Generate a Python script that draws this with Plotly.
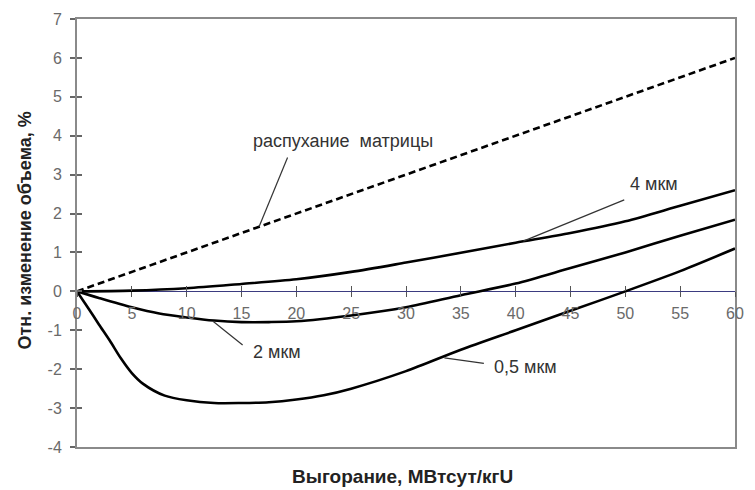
import plotly.graph_objects as go

# ---- data ----
x_swell = [0, 60]
y_swell = [0, 6]

x_4um = [0, 5, 10, 15, 20, 25, 30, 35, 40, 45, 50, 55, 60]
y_4um = [0, 0.02, 0.08, 0.19, 0.31, 0.5, 0.74, 0.99, 1.25, 1.5, 1.8, 2.2, 2.6]

x_2um = [0, 2, 5, 7.5, 10, 12.5, 15, 17.5, 20, 25, 30, 35, 40, 45, 50, 55, 60]
y_2um = [0, -0.17, -0.41, -0.57, -0.67, -0.75, -0.79, -0.79, -0.77, -0.62, -0.41, -0.1, 0.2, 0.6, 1.0, 1.43, 1.84]

x_05um = [0, 1, 2, 3, 4, 5, 6, 8, 10, 12.5, 15, 17.5, 20, 22.5, 25, 30, 35, 40, 45, 50, 55, 60]
y_05um = [0, -0.42, -0.85, -1.27, -1.72, -2.1, -2.37, -2.68, -2.8, -2.87, -2.87, -2.85, -2.78, -2.67, -2.5, -2.05, -1.5, -1.0, -0.5, 0, 0.52, 1.1]

x_ticks = list(range(0, 61, 5))
y_ticks = list(range(-4, 8, 1))
y_ticktext = [str(v) for v in y_ticks]   # plain hyphen minus as in the original

# labels: (text, text_x, text_y, leader tail x, y, leader head x, y)
labels = [
    ("распухание  матрицы", 24.3, 3.87, 19.2, 3.44, 16.6, 1.66),
    ("4 мкм", 52.6, 2.77, 49.9, 2.35, 40.7, 1.29),
    ("2 мкм", 18.2, -1.56, 15.1, -1.38, 12.4, -0.77),
    ("0,5 мкм", 40.9, -1.95, 37.1, -1.85, 33.5, -1.71),
]

FONT = "Liberation Sans, Arial, sans-serif"

fig = go.Figure()
fig.add_trace(go.Scatter(x=x_swell, y=y_swell, mode="lines",
                         line=dict(color="black", width=2.6, dash="7px,4px")))
for xs, ys in [(x_4um, y_4um), (x_2um, y_2um), (x_05um, y_05um)]:
    fig.add_trace(go.Scatter(x=xs, y=ys, mode="lines",
                             line=dict(color="black", width=2.6, shape="spline", smoothing=0.8)))

# invisible helper traces so the overlay tick axes are drawn
fig.add_trace(go.Scatter(x=[0, 60], y=[-4, 7], xaxis="x2", yaxis="y2", mode="markers",
                         marker=dict(opacity=0), hoverinfo="skip"))
fig.add_trace(go.Scatter(x=[0, 60], y=[-4, 7], xaxis="x3", yaxis="y", mode="markers",
                         marker=dict(opacity=0), hoverinfo="skip"))

for text, tx, ty, ax_, ay_, hx, hy in labels:
    fig.add_shape(type="line", x0=ax_, y0=ay_, x1=hx, y1=hy, xref="x", yref="y",
                  line=dict(color="#333333", width=1.2))
    fig.add_annotation(x=tx, y=ty, xref="x", yref="y", text=text, showarrow=False,
                       xanchor="center", yanchor="middle",
                       font=dict(family=FONT, size=18, color="#333333"))

# axis titles
fig.add_annotation(x=-0.0795, y=0.505, xref="paper", yref="paper",
                   xanchor="center", yanchor="middle",
                   text="Отн. изменение объема, %", textangle=-90, showarrow=False,
                   font=dict(family=FONT, size=18, color="#222222", weight="bold"))
fig.add_annotation(x=0.495, y=-0.07, xref="paper", yref="paper",
                   xanchor="center", yanchor="middle",
                   text="Выгорание, МВтсут/кгU", showarrow=False,
                   font=dict(family=FONT, size=19, color="#222222", weight="bold"))

GRAY = "#8a8a8a"
fig.update_layout(
    width=755, height=490,
    margin=dict(l=77, r=11, t=18, b=43),
    paper_bgcolor="white", plot_bgcolor="white",
    showlegend=False,
    xaxis=dict(range=[0, 60], showline=True, mirror=True, linecolor=GRAY, linewidth=2,
               showgrid=False, zeroline=False, showticklabels=False, ticks=""),
    yaxis=dict(range=[-4, 7], showline=True, mirror=True, linecolor=GRAY, linewidth=2,
               showgrid=False, zeroline=True, zerolinecolor="#3b3b80", zerolinewidth=1,
               tickvals=y_ticks, ticktext=y_ticktext, ticks="outside", ticklen=5,
               tickcolor="#666666", tickwidth=1.5, ticklabelstandoff=5,
               tickfont=dict(family=FONT, size=16, color="#6a6a6a")),
    yaxis2=dict(range=[-4, 7], overlaying="y", side="left", anchor="x", showline=False,
                showgrid=False, zeroline=False, tickvals=y_ticks, ticks="inside", ticklen=5,
                tickcolor="#666666", tickwidth=1.5, showticklabels=False),
    xaxis2=dict(range=[0, 60], overlaying="x", anchor="free", position=4 / 11, side="bottom",
                showline=False, showgrid=False, zeroline=False, tickvals=x_ticks,
                ticks="outside", ticklen=5, tickcolor="#555555", tickwidth=1.2,
                ticklabelstandoff=2,
                tickfont=dict(family=FONT, size=16, color="#6a6a6a")),
    xaxis3=dict(range=[0, 60], overlaying="x", anchor="free", position=4 / 11, side="bottom",
                showline=False, showgrid=False, zeroline=False, tickvals=x_ticks,
                ticks="inside", ticklen=5, tickcolor="#555555", tickwidth=1.2,
                showticklabels=False),
)

fig.write_html("out.html")
